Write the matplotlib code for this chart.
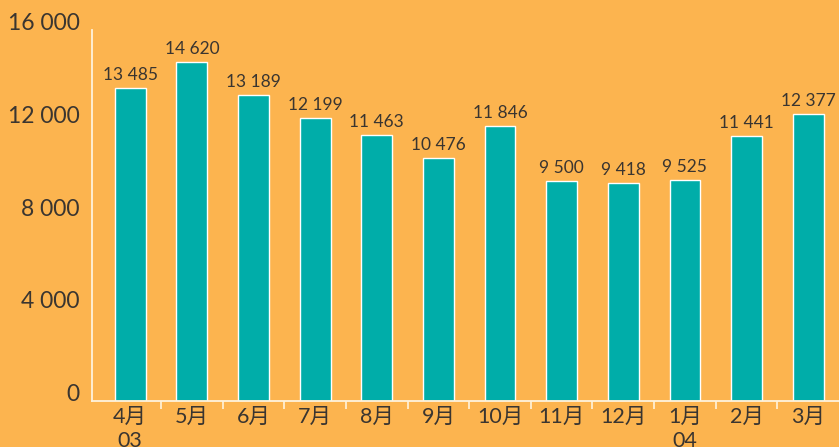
import matplotlib
matplotlib.use("Agg")
import matplotlib.pyplot as plt
import numpy as np

categories = ["4月\n03", "5月", "6月", "7月", "8月", "9月", "10月", "11月", "12月", "1月\n04", "2月", "3月"]
values = [13485, 14620, 13189, 12199, 11463, 10476, 11846, 9500, 9418, 9525, 11441, 12377]
yticks = [0, 4000, 8000, 12000, 16000]

BG = "#FCB44F"
BAR = "#00ADA9"
TXT = "#3a3530"
SPINE = "#FFF3DC"

plt.rcParams['font.family'] = ['Lato', 'Noto Sans CJK SC', 'DejaVu Sans']

fig = plt.figure(figsize=(8.39, 4.47), dpi=100, facecolor=BG)
ax = fig.add_axes([92/839, 1-401/447, 1-92/839, (401-30)/447])
ax.set_facecolor(BG)

x = np.arange(len(values))
ax.bar(x, values, width=0.5, color=BAR, edgecolor="white", linewidth=1.0, zorder=2)

def fmt(v):
    return f"{v:,}".replace(",", " ")

for xi, v in zip(x, values):
    ax.annotate(fmt(v), (xi, v), xytext=(0, 3.5), textcoords="offset points",
                ha="center", va="bottom", fontsize=12.5, color=TXT)

ax.set_xlim(-0.62, 11.5)
ax.set_ylim(0, 16000)
ax.set_yticks(yticks)
ax.set_yticklabels([fmt(t) for t in yticks], fontsize=16.5, color=TXT)
for lab in ax.get_yticklabels():
    lab.set_va("baseline")
ax.tick_params(axis="y", length=0, pad=9)

ax.set_xticks(x)
ax.set_xticklabels(categories, fontsize=15.5, color=TXT, linespacing=1.25)
ax.tick_params(axis="x", which="major", length=0, pad=4)
ax.set_xticks(np.arange(0.5, 11.5, 1.0), minor=True)
ax.tick_params(axis="x", which="minor", length=6, width=1.2, color=SPINE, direction="out")

for s in ["top", "right"]:
    ax.spines[s].set_visible(False)
for s in ["left", "bottom"]:
    ax.spines[s].set_color(SPINE)
    ax.spines[s].set_linewidth(1.3)

fig.savefig("out.png", dpi=100, facecolor=BG)
